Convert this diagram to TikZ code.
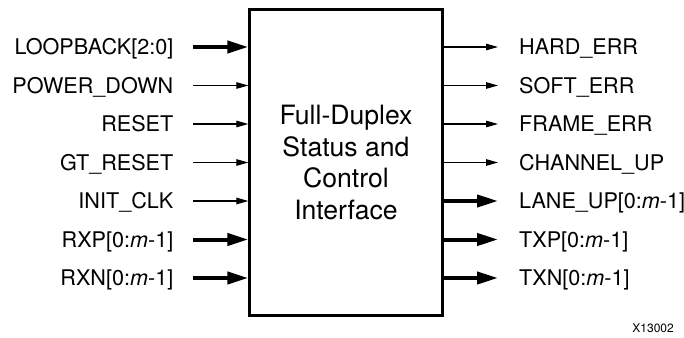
\documentclass[tikz,border=0pt]{standalone}
\usepackage{fontspec}
\setmainfont{TeX Gyre Heros}
\usetikzlibrary{arrows.meta}

\tikzset{
  sig/.style={line width=1.2pt,-{Triangle[length=12pt,width=6.5pt]}},
  bus/.style={line width=4pt,-{Triangle[length=21pt,width=12pt]}},
  pin/.style={inner sep=0pt,text height=15.4pt,text depth=0pt,font=\fontsize{21.6}{25}\selectfont},
}

\begin{document}
\begin{tikzpicture}[x=1pt,y=1pt,yscale=-1]
\useasboundingbox (0,0) rectangle (684,337);

%Shape: Block
\node [draw,line width=2.3pt,inner sep=0pt,minimum width=193pt,minimum height=306pt,
  align=center,font=\fontsize{26.6}{31.5}\selectfont] (core) at (346,162.5)
  {Full-Duplex\\Status and\\Control\\Interface};

%Inputs
\node [pin,anchor=east] (lb) at (173.5,47) {LOOPBACK[2:0]};
\node [pin,anchor=east] (pd) at (173.5,85.5) {POWER\_DOWN};
\node [pin,anchor=east] (rst) at (173.5,124) {RESET};
\node [pin,anchor=east] (gtr) at (173.5,162.5) {GT\_RESET};
\node [pin,anchor=east] (clk) at (173.5,201) {INIT\_CLK};
\node [pin,anchor=east] (rxp) at (173.5,239.5) {RXP[0:\textit{m}-1]};
\node [pin,anchor=east] (rxn) at (173.5,278) {RXN[0:\textit{m}-1]};

\draw [bus] ([xshift=19.5pt]lb.east) -- (lb -| core.west);
\draw [sig] ([xshift=19.5pt]pd.east) -- (pd -| core.west);
\draw [sig] ([xshift=19.5pt]rst.east) -- (rst -| core.west);
\draw [sig] ([xshift=19.5pt]gtr.east) -- (gtr -| core.west);
\draw [sig] ([xshift=19.5pt]clk.east) -- (clk -| core.west);
\draw [bus] ([xshift=19.5pt]rxp.east) -- (rxp -| core.west);
\draw [bus] ([xshift=19.5pt]rxn.east) -- (rxn -| core.west);

%Outputs
\node [pin,anchor=west] (hard) at (519,47) {HARD\_ERR};
\node [pin,anchor=west] (soft) at (519,85.5) {SOFT\_ERR};
\node [pin,anchor=west] (frame) at (519,124) {FRAME\_ERR};
\node [pin,anchor=west] (chan) at (519,162.5) {CHANNEL\_UP};
\node [pin,anchor=west] (lane) at (519,201) {LANE\_UP[0:\textit{m}-1]};
\node [pin,anchor=west] (txp) at (519,239.5) {TXP[0:\textit{m}-1]};
\node [pin,anchor=west] (txn) at (519,278) {TXN[0:\textit{m}-1]};

\draw [sig] (hard -| core.east) -- ([xshift=-21pt]hard.west);
\draw [sig] (soft -| core.east) -- ([xshift=-21pt]soft.west);
\draw [sig] (frame -| core.east) -- ([xshift=-21pt]frame.west);
\draw [sig] (chan -| core.east) -- ([xshift=-21pt]chan.west);
\draw [bus] (lane -| core.east) -- ([xshift=-21pt]lane.west);
\draw [bus] (txp -| core.east) -- ([xshift=-21pt]txp.west);
\draw [bus] (txn -| core.east) -- ([xshift=-21pt]txn.west);

%Figure id
\node [inner sep=0pt,anchor=east,font=\fontsize{12}{14}\selectfont] (fig) at (674,328) {X13002};

\end{tikzpicture}
\end{document}
